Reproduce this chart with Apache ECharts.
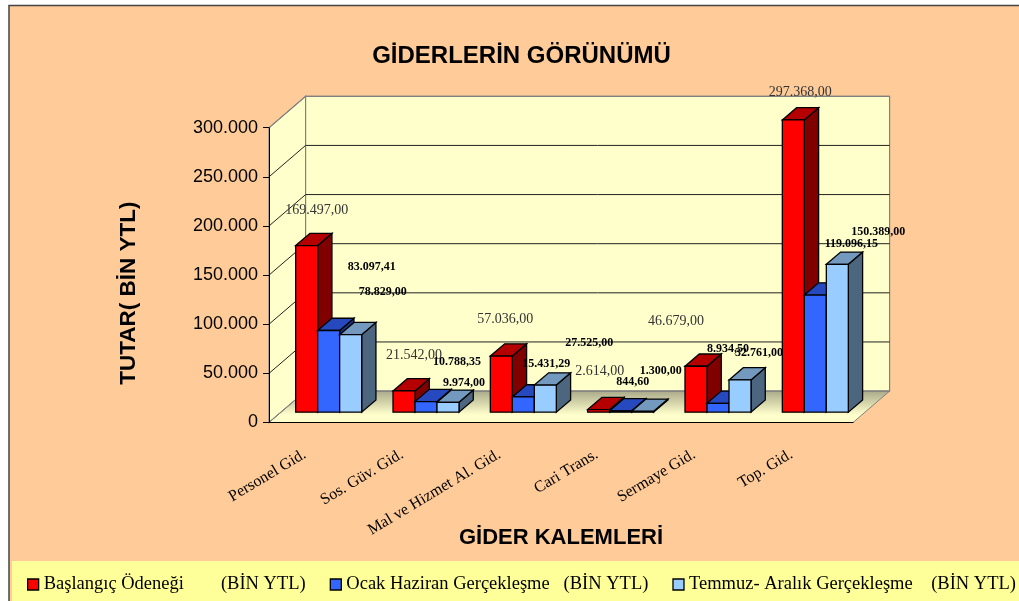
<!DOCTYPE html>
<html>
<head>
<meta charset="utf-8">
<title>Giderlerin Görünümü</title>
<style>
  html, body { margin: 0; padding: 0; background: #fff; }
  #chart { width: 1019px; height: 601px; }
</style>
<script src="https://cdn.jsdelivr.net/npm/echarts@6/dist/echarts.min.js"></script>
</head>
<body>
<div id="chart"></div>
<script>
const categories = ['Personel Gid.', 'Sos. Güv. Gid.', 'Mal ve Hizmet Al. Gid.', 'Cari Trans.', 'Sermaye Gid.', 'Top. Gid.'];
const baslangic = [169497, 21542, 57036, 2614, 46679, 297368];
const ocakHaziran = [83097.41, 10788.35, 15431.29, 1300, 8934.5, 119096.15];
const temmuzAralik = [78829, 9974, 27525, 844.6, 32761, 150389];
const yTicks = [0, 50000, 100000, 150000, 200000, 250000, 300000];
const seriesNames = [
  'Başlangıç Ödeneği        (BİN YTL)',
  'Ocak Haziran Gerçekleşme   (BİN YTL)',
  'Temmuz- Aralık Gerçekleşme    (BİN YTL)'
];

// hand placed in the original, so kept as offsets from each value's point on the axes
const baslangicLabelOffsets = [[-1, -46], [-1, -46], [-7, -47], [-10, -49], [-31, -55], [-4, -38]];
const ocakLabelOffsets = [[54, -74], [42, -50], [34, -43], [51, -50], [21, -65], [47, -62]];
const temmuzLabelOffsets = [[65, -53], [49, -30], [77, -53], [23, -40], [52, -37], [74, -43]];

const frontColors = ['#FF0000', '#3366FF', '#99CCFF'];
const topColors = ['#B40000', '#2649BF', '#7399BF'];
const sideColors = ['#800000', '#1A3380', '#4D6680'];

// fake 3d box: how far the back wall sits from the axes
const DEPTH_X = 36.6;
const DEPTH_Y = 31.4;
const BAR_WIDTH = 22;
const BAR_NEAR = 0.33;
const BAR_FAR = 0.72;
const WALL_FILL = '#FFFFCC';

const fmtLabel = v => v.toFixed(2).replace('.', ',').replace(/\B(?=(\d{3})+(?!\d))(?=.*,)/g, '.');
const fmtTick = v => String(v).replace(/\B(?=(\d{3})+(?!\d))/g, '.');

function renderWalls(params, api) {
  const cs = params.coordSys;
  const l = cs.x, r = cs.x + cs.width, t = cs.y, b = cs.y + cs.height;
  const wallStyle = { fill: WALL_FILL, stroke: '#808080', lineWidth: 1.2 };
  return {
    type: 'group',
    children: [
      { type: 'polygon', shape: { points: [[l, b], [l + DEPTH_X, b - DEPTH_Y], [l + DEPTH_X, t - DEPTH_Y], [l, t]] }, style: wallStyle },
      { type: 'rect', shape: { x: l + DEPTH_X, y: t - DEPTH_Y, width: r - l, height: b - t }, style: wallStyle },
      {
        type: 'polygon',
        shape: { points: [[l, b], [r, b], [r + DEPTH_X, b - DEPTH_Y], [l + DEPTH_X, b - DEPTH_Y]] },
        style: {
          stroke: '#808080',
          lineWidth: 1,
          fill: new echarts.graphic.LinearGradient(0, 0, 0, 1, [
            { offset: 0, color: '#A9A98A' },
            { offset: 0.75, color: WALL_FILL },
            { offset: 1, color: WALL_FILL }
          ])
        }
      }
    ]
  };
}

function renderGridLine(params, api) {
  const cs = params.coordSys;
  const y = api.coord([0, api.value(1)])[1];
  const l = cs.x, r = cs.x + cs.width;
  const edge = params.dataIndex === yTicks.length - 1 || params.dataIndex === 0;
  const color = edge ? '#808080' : '#222';
  return {
    type: 'polyline',
    shape: { points: [[l, y], [l + DEPTH_X, y - DEPTH_Y], [r + DEPTH_X, y - DEPTH_Y]] },
    style: { stroke: color, lineWidth: 1, fill: null }
  };
}

function makeBarRenderer(s, offsets) {
  return function (params, api) {
    const idx = api.value(0);
    const val = api.value(1);
    const top = api.coord([idx, val]);
    const base = api.coord([idx, 0]);
    const x0 = top[0] - 22 + s * BAR_WIDTH;
    const x1 = x0 + BAR_WIDTH;
    const yTop = top[1] - DEPTH_Y * BAR_NEAR;
    const yBase = base[1] - DEPTH_Y * BAR_NEAR;
    const dx = DEPTH_X * (BAR_FAR - BAR_NEAR);
    const dy = DEPTH_Y * (BAR_FAR - BAR_NEAR);
    const line = { stroke: '#000', lineWidth: 1.3, lineJoin: 'miter' };
    const off = offsets[params.dataIndex];
    const isRed = s === 0;
    return {
      type: 'group',
      children: [
        { type: 'polygon', shape: { points: [[x1, yTop], [x1 + dx, yTop - dy], [x1 + dx, yBase - dy], [x1, yBase]] }, style: { fill: sideColors[s], ...line } },
        { type: 'polygon', shape: { points: [[x0, yTop], [x0 + dx, yTop - dy], [x1 + dx, yTop - dy], [x1, yTop]] }, style: { fill: topColors[s], ...line } },
        { type: 'rect', shape: { x: x0, y: yTop, width: BAR_WIDTH, height: yBase - yTop }, style: { fill: frontColors[s], ...line } },
        {
          type: 'text',
          z2: 100,
          style: {
            x: top[0] + off[0],
            y: top[1] + off[1],
            text: fmtLabel(val),
            textAlign: 'center',
            textVerticalAlign: 'middle',
            fill: isRed ? '#333' : '#000',
            font: isRed ? '14px "Liberation Serif"' : 'bold 12px "Liberation Serif"'
          }
        }
      ]
    };
  };
}

const barData = [baslangic, ocakHaziran, temmuzAralik];
const labelOffsets = [baslangicLabelOffsets, ocakLabelOffsets, temmuzLabelOffsets];

const chart = echarts.init(document.getElementById('chart'));

chart.setOption({
  animation: false,
  backgroundColor: '#fff',
  title: {
    text: 'GİDERLERİN GÖRÜNÜMÜ',
    left: 516.5,
    top: 39,
    textAlign: 'center',
    textStyle: { fontFamily: 'Liberation Sans', fontWeight: 'bold', fontSize: 24, color: '#000' }
  },
  graphic: [
    { type: 'rect', z: -10, silent: true, shape: { x: 9, y: 5.5, width: 1020, height: 600 }, style: { fill: '#FFCC99', stroke: '#444', lineWidth: 1.5 } },
    { type: 'rect', z: -9, silent: true, shape: { x: 12, y: 561, width: 1007, height: 40 }, style: { fill: '#FFFF99' } }
  ],
  legend: {
    left: 27,
    top: 575,
    padding: 0,
    itemGap: 24,
    itemWidth: 11,
    itemHeight: 11,
    icon: 'rect',
    selectedMode: false,
    data: seriesNames,
    itemStyle: { borderColor: '#000', borderWidth: 1.3 },
    textStyle: { fontFamily: 'Liberation Serif', fontSize: 18.5, color: '#000' }
  },
  grid: { left: 269, top: 127.7, width: 584, height: 294.8 },
  xAxis: {
    type: 'category',
    data: categories,
    z: 10,
    name: 'GİDER KALEMLERİ',
    nameLocation: 'middle',
    nameMoveOverlap: false,
    nameGap: 104,
    nameTextStyle: { fontFamily: 'Liberation Sans', fontWeight: 'bold', fontSize: 22, color: '#000' },
    axisLine: { lineStyle: { color: '#000', width: 1.2 } },
    axisTick: { length: 6, alignWithLabel: false, lineStyle: { color: '#333', width: 1 } },
    axisLabel: {
      rotate: 31,
      interval: 0,
      margin: 23,
      padding: [0, 15, 0, 0],
      fontFamily: 'Liberation Serif',
      fontSize: 16,
      color: '#000'
    }
  },
  yAxis: {
    type: 'value',
    min: 0,
    max: 300000,
    interval: 50000,
    z: 10,
    name: 'TUTAR( BİN YTL)',
    nameLocation: 'middle',
    nameMoveOverlap: false,
    nameGap: 129,
    nameRotate: 90,
    nameTextStyle: { fontFamily: 'Liberation Sans', fontWeight: 'bold', fontSize: 22.5, color: '#000', padding: [0, 36, 0, 0] },
    splitLine: { show: false },
    axisLine: { show: true, lineStyle: { color: '#000', width: 1 } },
    axisTick: { show: true, length: 6, lineStyle: { color: '#000', width: 1 } },
    axisLabel: {
      margin: 11,
      formatter: fmtTick,
      fontFamily: 'Liberation Sans',
      fontSize: 18,
      color: '#000'
    }
  },
  series: [
    { type: 'custom', name: 'walls', data: [[0, 0]], renderItem: renderWalls, silent: true, z: 1 },
    { type: 'custom', name: 'gridLines', data: yTicks.map(v => [0, v]), renderItem: renderGridLine, silent: true, z: 1 },
    ...barData.map((values, s) => ({
      type: 'custom',
      name: seriesNames[s],
      data: values.map((v, i) => [i, v]),
      encode: { x: 0, y: 1 },
      itemStyle: { color: frontColors[s] },
      renderItem: makeBarRenderer(s, labelOffsets[s]),
      z: 2
    }))
  ]
});
</script>
</body>
</html>
